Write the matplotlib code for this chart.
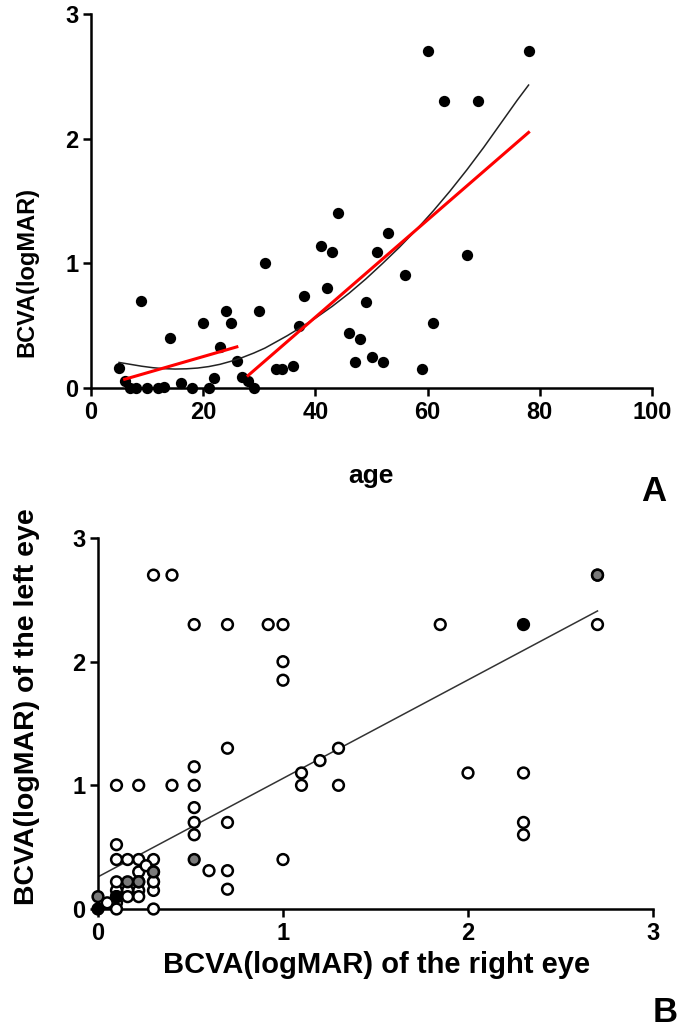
import matplotlib
matplotlib.use("Agg")
import matplotlib.pyplot as plt

plt.rcParams['font.family'] = ['Liberation Sans', 'DejaVu Sans']
plt.rcParams['font.weight'] = 'bold'

# ---------------- Panel A data ----------------
age = [5, 6, 7, 8, 9, 10, 12, 13, 14, 16, 18, 20, 21, 22, 23, 24, 25, 26, 27, 28,
       29, 30, 31, 33, 34, 36, 37, 38, 41, 42, 43, 44, 46, 47, 48, 49, 50, 51, 52,
       53, 56, 59, 60, 61, 63, 67, 69, 78]
bcva_a = [0.16, 0.06, 0.0, 0.0, 0.70, 0.0, 0.0, 0.01, 0.40, 0.04, 0.0, 0.52, 0.0,
          0.08, 0.33, 0.62, 0.52, 0.22, 0.09, 0.06, 0.0, 0.62, 1.00, 0.15, 0.15,
          0.18, 0.50, 0.74, 1.14, 0.80, 1.09, 1.40, 0.44, 0.21, 0.39, 0.69, 0.25,
          1.09, 0.21, 1.245, 0.91, 0.15, 2.70, 0.52, 2.30, 1.07, 2.30, 2.70]

# fitted curve (black)
curve_age = [5, 7, 9, 11, 13, 15, 17, 19, 21, 23, 25, 27, 29, 31, 33, 35, 37, 40,
             43, 46, 49, 52, 55, 58, 61, 64, 67, 70, 73, 76, 78]
curve_val = [0.205, 0.19, 0.175, 0.163, 0.155, 0.152, 0.154, 0.16, 0.172, 0.19,
             0.215, 0.245, 0.28, 0.32, 0.37, 0.42, 0.475, 0.56, 0.655, 0.76, 0.875,
             1.0, 1.13, 1.27, 1.42, 1.58, 1.75, 1.93, 2.12, 2.31, 2.43]

# segmented linear fits (red)
seg1_age = [6, 26]
seg1_val = [0.07, 0.33]
seg2_age = [28, 78]
seg2_val = [0.10, 2.05]

# ---------------- Panel B data ----------------
right_eye = [0.30, 0.40, 0.52, 0.70, 0.92, 1.00, 1.00, 1.00, 1.85, 2.70, 2.70,
             0.70, 1.30, 1.20, 1.10, 1.10, 1.30, 2.00, 2.30, 2.30, 2.30,
             0.52, 0.10, 0.22, 0.40, 0.52, 0.52, 0.52, 0.52, 0.70, 1.00, 0.60,
             0.70, 0.70,
             0.10, 0.10, 0.16, 0.22, 0.30, 0.22, 0.26, 0.16, 0.30, 0.30, 0.10,
             0.22, 0.30, 0.10, 0.22, 0.30, 0.16, 0.22, 0.10, 0.10, 0.30, 0.05,
             0.10, 0.16, 0.22, 0.30, 0.52, 0.0, 2.30, 2.70, 0.10, 0.0]
left_eye = [2.70, 2.70, 2.30, 2.30, 2.30, 2.30, 2.00, 1.85, 2.30, 2.30, 2.70,
            1.30, 1.30, 1.20, 1.10, 1.00, 1.00, 1.10, 1.10, 0.70, 0.60,
            1.15, 1.00, 1.00, 1.00, 1.00, 0.82, 0.70, 0.60, 0.70, 0.40, 0.31,
            0.31, 0.16,
            0.52, 0.40, 0.40, 0.40, 0.40, 0.30, 0.35, 0.15, 0.15, 0.30, 0.15,
            0.15, 0.22, 0.05, 0.10, 0.0, 0.10, 0.22, 0.0, 0.22, 0.22, 0.05,
            0.10, 0.22, 0.22, 0.30, 0.40, 0.10, 2.30, 2.70, 0.10, 0.0]
fill_b = ['w'] * 34 + ['w'] * 22 + ['k', 'g', 'g', 'g', 'g', 'g', 'k', 'g', 'k', 'k']

reg_x = [0.0, 2.70]
reg_y = [0.26, 2.41]

colour_map = {'w': 'white', 'g': '#7a7a7a', 'k': 'black'}

fig = plt.figure(figsize=(6.85, 10.29), dpi=100)

def style(ax, xt, yt, tsize):
    for s in ['top', 'right']:
        ax.spines[s].set_visible(False)
    for s in ['left', 'bottom']:
        ax.spines[s].set_linewidth(1.8)
    ax.tick_params(width=1.8, length=6, labelsize=tsize, pad=3)
    ax.set_xticks(xt)
    ax.set_yticks(yt)
    for lab in ax.get_xticklabels() + ax.get_yticklabels():
        lab.set_fontweight('bold')

# ---------- Panel A ----------
axA = fig.add_axes([91/685, 1-388/1029, (652-91)/685, (388-14)/1029])
axA.set_xlim(0, 100)
axA.set_ylim(0, 3)
style(axA, [0, 20, 40, 60, 80, 100], [0, 1, 2, 3], 17)
axA.scatter(age, bcva_a, s=66, color='black', zorder=3, clip_on=False, linewidths=0)
axA.plot(curve_age, curve_val, color='#222222', lw=1.1, zorder=4)
axA.plot(seg1_age, seg1_val, color='#ff0000', lw=2.2, zorder=5)
axA.plot(seg2_age, seg2_val, color='#ff0000', lw=2.2, zorder=5)

fig.text(371/685, 1-476/1029, 'age', ha='center', va='center', fontsize=19,
         fontweight='bold')
fig.text(27/685, 1-272/1029, 'BCVA(logMAR)', ha='center', va='center',
         rotation=90, fontsize=17, fontweight='bold')
fig.text(654/685, 1-492/1029, 'A', ha='center', va='center', fontsize=25,
         fontweight='bold')

# ---------- Panel B ----------
axB = fig.add_axes([98/685, 1-909/1029, (653-98)/685, (909-538)/1029])
axB.set_xlim(0, 3)
axB.set_ylim(0, 3)
style(axB, [0, 1, 2, 3], [0, 1, 2, 3], 17)
axB.plot(reg_x, reg_y, color='#333333', lw=1.1, zorder=2)
axB.scatter(right_eye, left_eye, s=60, facecolors=[colour_map[c] for c in fill_b],
            edgecolors='black', linewidths=1.8, zorder=3, clip_on=False)

fig.text(377/685, 1-965/1029, 'BCVA(logMAR) of the right eye', ha='center',
         va='center', fontsize=21, fontweight='bold')
fig.text(27/685, 1-707/1029, 'BCVA(logMAR) of the left eye', ha='center',
         va='center', rotation=90, fontsize=20.5, fontweight='bold')
fig.text(665/685, 1-1012/1029, 'B', ha='center', va='center', fontsize=25,
         fontweight='bold')

fig.savefig('out.png', dpi=100)
